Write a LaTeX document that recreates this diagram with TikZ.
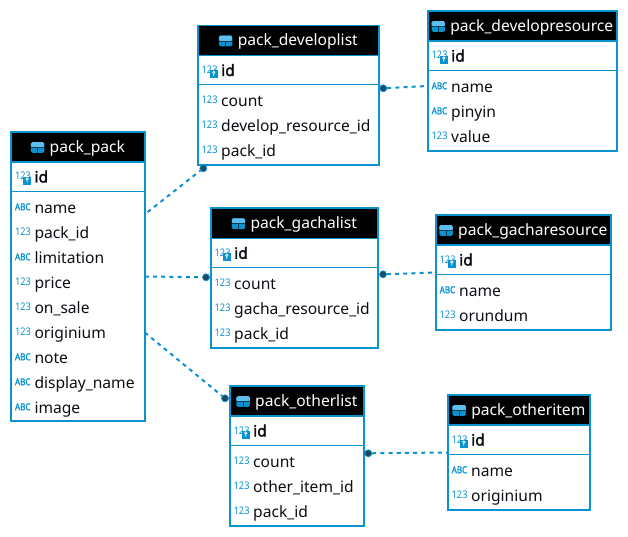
\documentclass[tikz,border=0pt]{standalone}
\usepackage{fontspec}
\setmainfont{Noto Sans}[AutoFakeBold=2.2]
\usetikzlibrary{positioning}
\definecolor{framecol}{HTML}{0A92CF}
\definecolor{iconlight}{HTML}{5CC0EE}
\definecolor{icondark}{HTML}{0B3A55}
\definecolor{dotcol}{HTML}{1F4A66}
\definecolor{textcol}{HTML}{0A0E14}
\tikzset{
  tablebox/.style={rectangle, draw=framecol, line width=1.9pt, anchor=north west, inner sep=0pt, outer sep=0pt},
  headbox/.style={rectangle, fill=black, anchor=north west, inner sep=0pt, outer sep=0pt, minimum height=29.5pt},
  headtext/.style={anchor=base, inner sep=0pt, text=white, font=\fontsize{15.6}{15.6}\selectfont},
  headicon/.style={rectangle, rounded corners=1.5pt, fill=framecol, inner sep=0pt, minimum width=13.4pt, minimum height=10.7pt,
    path picture={\fill[iconlight] (path picture bounding box.north west) rectangle (path picture bounding box.east);}},
  rowtext/.style={anchor=base west, inner sep=0pt, text=textcol, font=\fontsize{15.6}{15.6}\selectfont},
  keytext/.style={rowtext, font=\fontsize{15.6}{15.6}\selectfont\bfseries},
  rowicon/.style={anchor=base west, inner sep=0pt, text=framecol, font=\fontsize{10.5}{10.5}\selectfont},
  keybadge/.style={rectangle, fill=framecol, inner sep=0pt, minimum width=8pt, minimum height=8pt},
  fkdot/.style={circle, fill=dotcol, draw=framecol, line width=0.7pt, inner sep=0pt, minimum size=7pt},
  fklink/.style={draw=framecol, line width=2pt, dash pattern=on 4pt off 4.2pt}
}
\newcommand{\abcmark}{\scalebox{0.85}[1]{\fontsize{9.5}{9.5}\selectfont\bfseries ABC}}
\newcommand{\nummark}{\scalebox{0.88}[1]{123}}
% name, title, left, top, width, height, rows
\newcommand{\packtable}[7]{
  \node[headbox, minimum width=#5pt] (#1_head) at (#3,#4) {};
  \node[headtext] (#1_title) at (#3+#5/2+9.3,#4+20.5) {#2};
  \node[headicon, left=5pt of #1_title, yshift=1pt] (#1_icon) {};
  \draw[icondark, line width=0.8pt] (#1_icon.west) -- (#1_icon.east) (#1_icon.center) -- (#1_icon.south);
  \draw[framecol, line width=1.3pt] (#3,#4+30) -- (#3+#5,#4+30);
  \node[rowicon] (#1_idicon) at (#3+3.5,#4+48) {\nummark};
  \node[keybadge] (#1_badge) at (#3+15.8,#4+48.7) {};
  \draw[white, line width=0.7pt] (#1_badge.north) ++(0,2.5) circle (1.2) ++(0,1.2) -- ++(0,2.5);
  \node[keytext] (#1_id) at (#3+23,#4+50.5) {id};
  \draw[framecol, line width=1pt] (#3,#4+59.5) -- (#3+#5,#4+59.5);
  \foreach \mark/\label [count=\i] in {#7} {
    \node[rowtext] (#1_row\i) at (#3+23,#4+56.2+25*\i) {\label};
    \node[rowicon] (#1_mark\i) at (#3+3.5,#4+53.2+25*\i) {\mark};
  }
  \node[tablebox, minimum width=#5pt, minimum height=#6pt] (#1) at (#3,#4) {};
}
\begin{document}
\begin{tikzpicture}[x=1pt, y=-1pt]
\useasboundingbox (0,0) rectangle (628,537);

% Tables
\packtable{pack_pack}{pack\_pack}{11.3}{132}{133.5}{289}{\abcmark/name, \nummark/pack\_id, \abcmark/limitation, \nummark/price, \nummark/on\_sale, \nummark/originium, \abcmark/note, \abcmark/display\_name, \abcmark/image}
\packtable{pack_developlist}{pack\_developlist}{198}{25.5}{181}{139.5}{\nummark/count, \nummark/develop\_resource\_id, \nummark/pack\_id}
\packtable{pack_developresource}{pack\_developresource}{428}{11}{189}{140}{\abcmark/name, \abcmark/pinyin, \nummark/value}
\packtable{pack_gachalist}{pack\_gachalist}{211}{208.3}{167}{139.5}{\nummark/count, \nummark/gacha\_resource\_id, \nummark/pack\_id}
\packtable{pack_gacharesource}{pack\_gacharesource}{436}{215}{175}{115}{\abcmark/name, \nummark/orundum}
\packtable{pack_otherlist}{pack\_otherlist}{230}{386}{134}{140}{\nummark/count, \nummark/other\_item\_id, \nummark/pack\_id}
\packtable{pack_otheritem}{pack\_otheritem}{448}{395}{142}{115}{\abcmark/name, \nummark/originium}

% Dots
\node[fkdot] (dot_developlist) at (203.3,168.3) {};
\node[fkdot] (dot_gachalist) at (206,277.3) {};
\node[fkdot] (dot_otherlist) at (225,398.3) {};
\node[fkdot] (dot_developresource) at (383.3,88.3) {};
\node[fkdot] (dot_gacharesource) at (383,274.3) {};
\node[fkdot] (dot_otheritem) at (368.3,453.3) {};

% Links
\draw[fklink, shorten <=3.5pt] (pack_pack.43.1) -- (dot_developlist);
\draw[fklink] (pack_pack.east) -- (dot_gachalist);
\draw[fklink] (pack_pack.-40.2) -- (dot_otherlist);
\draw[fklink, shorten >=2pt] (dot_developresource) -- (pack_developresource.183);
\draw[fklink] (dot_gacharesource) -- (pack_gacharesource.west);
\draw[fklink] (dot_otheritem) -- (pack_otheritem.west);
\end{tikzpicture}
\end{document}
